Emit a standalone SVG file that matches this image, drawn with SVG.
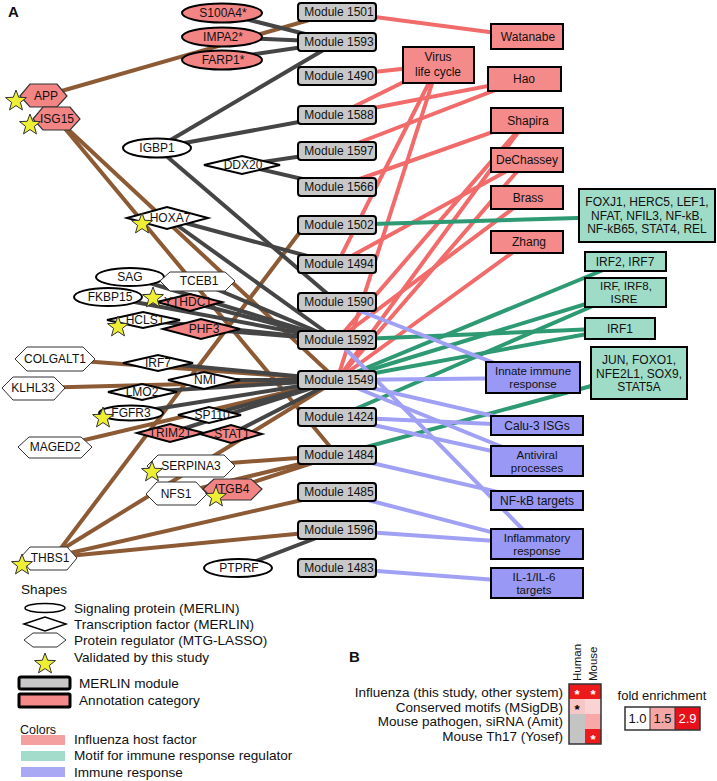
<svg xmlns="http://www.w3.org/2000/svg" width="717" height="781" viewBox="0 0 717 781">
<style>
text{font-family:"Liberation Sans",Arial,sans-serif;font-size:12px;fill:#111}
.t{text-anchor:middle}
.m2{font-size:11.5px}
.e line{stroke-width:4;stroke-linecap:butt}
.br{stroke:#8c5a34}.dk{stroke:#454545}.rd{stroke:#f26b6b}.gr{stroke:#2e9a74}.pu{stroke:#a0a0f5}
.sig{fill:#fff;stroke:#000;stroke-width:2}
.sigp{fill:#f28484;stroke:#000;stroke-width:2}
.tf{fill:#fff;stroke:#000;stroke-width:2}
.tfp{fill:#f28484;stroke:#000;stroke-width:2}
.hx{fill:#fff;stroke:#333;stroke-width:1}
.hxp{fill:#f28484;stroke:#333;stroke-width:1.2}
.mod{fill:#c8c8c8;stroke:#000;stroke-width:2}
.ann{fill:#f58a8a;stroke:#000;stroke-width:2}
.mot{fill:#9fdcc8;stroke:#000;stroke-width:2}
.imm{fill:#9999f5;stroke:#000;stroke-width:2}
.star{fill:#eeee33;stroke:#333;stroke-width:1}
.lg{font-size:13.6px}
.ast{font-size:13.2px;text-anchor:middle;font-weight:bold}
</style>
<defs>
<path id="star" class="star" d="M0,-11 L2.7,-3.72 L10.46,-3.4 L4.37,1.42 L6.47,8.9 L0,4.6 L-6.47,8.9 L-4.37,1.42 L-10.46,-3.4 L-2.7,-3.72 Z"/>
</defs>
<rect width="717" height="781" fill="#fff"/>
<text x="8" y="17" style="font-weight:bold;font-size:15px">A</text>

<g id="edges" class="e">
<!-- brown -->
<line class="br" x1="44" y1="96" x2="337" y2="12"/>
<line class="br" x1="57" y1="119" x2="337" y2="380"/>
<line class="br" x1="57" y1="119" x2="337" y2="455"/>
<line class="br" x1="55" y1="359" x2="337" y2="380"/>
<line class="br" x1="33" y1="388" x2="337" y2="380"/>
<line class="br" x1="55" y1="447" x2="337" y2="380"/>
<line class="br" x1="191" y1="466" x2="337" y2="455"/>
<line class="br" x1="176" y1="494" x2="337" y2="455"/>
<line class="br" x1="232" y1="489" x2="337" y2="455"/>
<line class="br" x1="55" y1="556" x2="300" y2="232"/>
<line class="br" x1="48" y1="558" x2="337" y2="380"/>
<line class="br" x1="48" y1="558" x2="337" y2="492"/>
<line class="br" x1="48" y1="558" x2="337" y2="530"/>
<!-- dark -->
<line class="dk" x1="222" y1="13" x2="337" y2="42"/>
<line class="dk" x1="222" y1="37" x2="337" y2="42"/>
<line class="dk" x1="222" y1="59" x2="337" y2="42"/>
<line class="dk" x1="157" y1="148" x2="337" y2="42"/>
<line class="dk" x1="157" y1="148" x2="337" y2="115"/>
<line class="dk" x1="157" y1="148" x2="337" y2="302"/>
<line class="dk" x1="242" y1="165" x2="337" y2="151"/>
<line class="dk" x1="242" y1="165" x2="337" y2="187"/>
<line class="dk" x1="167" y1="218" x2="337" y2="264"/>
<line class="dk" x1="167" y1="218" x2="337" y2="340"/>
<line class="dk" x1="130" y1="277" x2="337" y2="340"/>
<line class="dk" x1="197" y1="281" x2="337" y2="340"/>
<line class="dk" x1="108" y1="297" x2="337" y2="340"/>
<line class="dk" x1="190" y1="302" x2="337" y2="340"/>
<line class="dk" x1="143" y1="320" x2="337" y2="340"/>
<line class="dk" x1="201" y1="329" x2="337" y2="340"/>
<line class="dk" x1="158" y1="363" x2="337" y2="380"/>
<line class="dk" x1="204" y1="380" x2="337" y2="380"/>
<line class="dk" x1="142" y1="392" x2="337" y2="380"/>
<line class="dk" x1="131" y1="413" x2="337" y2="380"/>
<line class="dk" x1="209" y1="415" x2="337" y2="380"/>
<line class="dk" x1="170" y1="433" x2="337" y2="380"/>
<line class="dk" x1="231" y1="434" x2="337" y2="380"/>
<line class="dk" x1="238" y1="568" x2="337" y2="530"/>
<!-- red -->
<line class="rd" x1="337" y1="12" x2="527" y2="37"/>
<line class="rd" x1="337" y1="76" x2="438" y2="65"/>
<line class="rd" x1="337" y1="115" x2="438" y2="65"/>
<line class="rd" x1="337" y1="115" x2="524" y2="79"/>
<line class="rd" x1="337" y1="151" x2="524" y2="79"/>
<line class="rd" x1="337" y1="187" x2="527" y2="120"/>
<line class="rd" x1="337" y1="264" x2="438" y2="65"/>
<line class="rd" x1="337" y1="264" x2="527" y2="160"/>
<line class="rd" x1="337" y1="340" x2="527" y2="120"/>
<line class="rd" x1="337" y1="340" x2="527" y2="198"/>
<line class="rd" x1="337" y1="380" x2="438" y2="65"/>
<line class="rd" x1="337" y1="380" x2="527" y2="120"/>
<line class="rd" x1="337" y1="380" x2="527" y2="160"/>
<line class="rd" x1="337" y1="380" x2="527" y2="242"/>
<!-- green -->
<line class="gr" x1="337" y1="225" x2="647" y2="216"/>
<line class="gr" x1="337" y1="340" x2="620" y2="328"/>
<line class="gr" x1="337" y1="380" x2="625" y2="261"/>
<line class="gr" x1="337" y1="380" x2="625" y2="292"/>
<line class="gr" x1="337" y1="380" x2="620" y2="328"/>
<line class="gr" x1="337" y1="417" x2="625" y2="292"/>
<line class="gr" x1="337" y1="455" x2="639" y2="373"/>
<!-- purple -->
<line class="pu" x1="337" y1="302" x2="533" y2="378"/>
<line class="pu" x1="337" y1="340" x2="537" y2="544"/>
<line class="pu" x1="337" y1="380" x2="533" y2="378"/>
<line class="pu" x1="337" y1="380" x2="537" y2="426"/>
<line class="pu" x1="337" y1="380" x2="537" y2="461"/>
<line class="pu" x1="337" y1="417" x2="537" y2="426"/>
<line class="pu" x1="337" y1="417" x2="537" y2="461"/>
<line class="pu" x1="337" y1="455" x2="537" y2="501"/>
<line class="pu" x1="337" y1="492" x2="537" y2="544"/>
<line class="pu" x1="337" y1="530" x2="537" y2="544"/>
<line class="pu" x1="337" y1="568" x2="537" y2="583"/>
</g>

<!-- modules -->
<g id="m1501"><rect class="mod" x="298" y="3" width="78" height="18" rx="3"/><text class="t" x="339" y="16">Module 1501</text></g>
<g id="m1593"><rect class="mod" x="298" y="33" width="78" height="18" rx="3"/><text class="t" x="339" y="46">Module 1593</text></g>
<g id="m1490"><rect class="mod" x="298" y="67" width="78" height="18" rx="3"/><text class="t" x="339" y="80">Module 1490</text></g>
<g id="m1588"><rect class="mod" x="298" y="106" width="78" height="18" rx="3"/><text class="t" x="339" y="119">Module 1588</text></g>
<g id="m1597"><rect class="mod" x="298" y="142" width="78" height="18" rx="3"/><text class="t" x="339" y="155">Module 1597</text></g>
<g id="m1566"><rect class="mod" x="298" y="178" width="78" height="18" rx="3"/><text class="t" x="339" y="191">Module 1566</text></g>
<g id="m1502"><rect class="mod" x="298" y="216" width="78" height="18" rx="3"/><text class="t" x="339" y="229">Module 1502</text></g>
<g id="m1494"><rect class="mod" x="298" y="255" width="78" height="18" rx="3"/><text class="t" x="339" y="268">Module 1494</text></g>
<g id="m1590"><rect class="mod" x="298" y="293" width="78" height="18" rx="3"/><text class="t" x="339" y="306">Module 1590</text></g>
<g id="m1592"><rect class="mod" x="298" y="331" width="78" height="18" rx="3"/><text class="t" x="339" y="344">Module 1592</text></g>
<g id="m1549"><rect class="mod" x="298" y="371" width="78" height="18" rx="3"/><text class="t" x="339" y="384">Module 1549</text></g>
<g id="m1424"><rect class="mod" x="298" y="408" width="78" height="18" rx="3"/><text class="t" x="339" y="421">Module 1424</text></g>
<g id="m1484"><rect class="mod" x="298" y="446" width="78" height="18" rx="3"/><text class="t" x="339" y="459">Module 1484</text></g>
<g id="m1485"><rect class="mod" x="298" y="483" width="78" height="18" rx="3"/><text class="t" x="339" y="496">Module 1485</text></g>
<g id="m1596"><rect class="mod" x="298" y="521" width="78" height="18" rx="3"/><text class="t" x="339" y="534">Module 1596</text></g>
<g id="m1483"><rect class="mod" x="298" y="559" width="78" height="18" rx="3"/><text class="t" x="339" y="572">Module 1483</text></g>

<!-- annotation categories -->
<g id="vlc"><rect class="ann" x="403" y="47" width="71" height="36"/><text class="t" x="438" y="61">Virus</text><text class="t" x="438" y="76">life cycle</text></g>
<g id="watanabe"><rect class="ann" x="491" y="24" width="72" height="25"/><text class="t" x="528" y="41">Watanabe</text></g>
<g id="hao"><rect class="ann" x="488" y="67" width="73" height="24"/><text class="t" x="524" y="83">Hao</text></g>
<g id="shapira"><rect class="ann" x="491" y="108" width="72" height="25"/><text class="t" x="528" y="125">Shapira</text></g>
<g id="dechassey"><rect class="ann" x="491" y="148" width="72" height="24"/><text class="t" x="527" y="164">DeChassey</text></g>
<g id="brass"><rect class="ann" x="491" y="186" width="72" height="23"/><text class="t" x="528" y="202">Brass</text></g>
<g id="zhang"><rect class="ann" x="491" y="231" width="72" height="22"/><text class="t" x="529" y="246">Zhang</text></g>

<g id="foxj1"><rect class="mot" x="579" y="189" width="136" height="53"/><text class="t" x="647" y="206">FOXJ1, HERC5, LEF1,</text><text class="t" x="647" y="219.5">NFAT, NFIL3, NF-kB,</text><text class="t" x="647" y="233">NF-kB65, STAT4, REL</text></g>
<g id="irf2"><rect class="mot" x="585" y="252" width="81" height="19"/><text class="t" x="625" y="266">IRF2, IRF7</text></g>
<g id="irf8"><rect class="mot" x="585" y="278" width="81" height="29"/><text class="t m2" x="626" y="289.5">IRF, IRF8,</text><text class="t m2" x="624" y="302.5">ISRE</text></g>
<g id="irf1"><rect class="mot" x="585" y="318" width="70" height="21"/><text class="t" x="620" y="333">IRF1</text></g>
<g id="jun"><rect class="mot" x="591" y="347" width="96" height="52"/><text class="t" x="639" y="364">JUN, FOXO1,</text><text class="t" x="639" y="377.5">NFE2L1, SOX9,</text><text class="t" x="639" y="391">STAT5A</text></g>

<g id="innate"><rect class="imm" x="486" y="362" width="94" height="31"/><text class="t m2" x="533" y="375">Innate immune</text><text class="t m2" x="533" y="388">response</text></g>
<g id="calu3"><rect class="imm" x="491" y="416" width="92" height="19"/><text class="t" x="537" y="430">Calu-3 ISGs</text></g>
<g id="antiviral"><rect class="imm" x="491" y="446" width="92" height="30"/><text class="t m2" x="537" y="459">Antiviral</text><text class="t m2" x="537" y="472">processes</text></g>
<g id="nfkb"><rect class="imm" x="491" y="491" width="92" height="19"/><text class="t" x="537" y="505">NF-kB targets</text></g>
<g id="inflam"><rect class="imm" x="491" y="529" width="92" height="30"/><text class="t m2" x="537" y="542">Inflammatory</text><text class="t m2" x="537" y="555">response</text></g>
<g id="il1"><rect class="imm" x="491" y="568" width="92" height="30"/><text class="t m2" x="534" y="581">IL-1/IL-6</text><text class="t m2" x="534" y="594">targets</text></g>

<!-- gene nodes -->
<g id="s100a4"><ellipse class="sigp" cx="222" cy="13" rx="40" ry="9.5"/><text class="t" x="223" y="17">S100A4*</text></g>
<g id="impa2"><ellipse class="sigp" cx="222" cy="37" rx="40" ry="9.5"/><text class="t" x="223" y="41">IMPA2*</text></g>
<g id="farp1"><ellipse class="sigp" cx="222" cy="60" rx="40" ry="9.5"/><text class="t" x="223" y="64">FARP1*</text></g>
<g id="app"><polygon class="hxp" points="20,96 30,84 57,84 67,96 57,107 30,107"/><text class="t" x="46" y="100">APP</text><use href="#star" x="16" y="101"/></g>
<g id="isg15"><polygon class="hxp" points="33,119 43,107 70,107 80,119 70,130 43,130"/><text class="t" x="57" y="123">ISG15</text><use href="#star" x="30" y="125"/></g>
<g id="igbp1"><ellipse class="sig" cx="157" cy="148" rx="34" ry="9.5"/><text class="t" x="157" y="152">IGBP1</text></g>
<g id="ddx20"><polygon class="tf" points="204,165 242,156 280,165 242,174"/><text class="t" x="243" y="169">DDX20</text></g>
<g id="hoxa7"><polygon class="tf" points="127,218 167,207 208,218 167,229"/><text class="t" x="170" y="222">HOXA7</text><use href="#star" x="142" y="224"/></g>
<g id="sag"><ellipse class="sig" cx="130" cy="277" rx="34" ry="9"/><text class="t" x="130" y="281">SAG</text></g>
<g id="tceb1"><polygon class="hx" points="160,281 170,272 225,272 235,281 225,291 170,291"/><text class="t" x="199" y="285">TCEB1</text></g>
<g id="fkbp15"><ellipse class="sig" cx="108" cy="297" rx="34" ry="9"/><text class="t" x="110" y="301">FKBP15</text></g>
<g id="ythdc1"><polygon class="tfp" points="157,302 190,294 222,302 190,311"/><text class="t" x="188" y="306">YTHDC1</text><use href="#star" x="153" y="298"/></g>
<g id="hcls1"><polygon class="tf" points="107,320 143,312 180,320 143,328"/><text class="t" x="145" y="324">HCLS1</text><use href="#star" x="118" y="327"/></g>
<g id="phf3"><polygon class="tfp" points="163,329 201,319 240,329 201,339"/><text class="t" x="204" y="333">PHF3</text></g>
<g id="colgalt1"><polygon class="hx" points="15,359 27,347 83,347 95,359 83,371 27,371"/><text class="t" x="55" y="363">COLGALT1</text></g>
<g id="irf7"><polygon class="tf" points="123,363 158,355 193,363 158,371"/><text class="t" x="158" y="367">IRF7</text></g>
<g id="nmi"><polygon class="tf" points="168,380 204,372 240,380 204,389"/><text class="t" x="205" y="384">NMI</text></g>
<g id="klhl33"><polygon class="hx" points="2,388 13,377 54,377 65,388 54,400 13,400"/><text class="t" x="33" y="392">KLHL33</text></g>
<g id="lmo2"><polygon class="tf" points="108,392 142,384 177,392 142,400"/><text class="t" x="142" y="396">LMO2</text></g>
<g id="fgfr3"><ellipse class="sig" cx="131" cy="413" rx="32" ry="7.5"/><text class="t" x="131" y="417">FGFR3</text><use href="#star" x="103" y="418"/></g>
<g id="sp110"><polygon class="tf" points="178,415 209,407 241,415 209,423"/><text class="t" x="212" y="419">SP110</text></g>
<g id="trim21"><polygon class="tfp" points="137,433 170,424 204,433 170,442"/><text class="t" x="170" y="437">TRIM21</text></g>
<g id="stat1"><polygon class="tfp" points="200,434 231,425 262,434 231,443"/><text class="t" x="232" y="438">STAT1</text></g>
<g id="maged2"><polygon class="hx" points="18,447 29,437 81,437 92,447 81,458 29,458"/><text class="t" x="55" y="451">MAGED2</text></g>
<g id="serpina3"><polygon class="hx" points="147,466 158,455 224,455 235,466 224,477 158,477"/><text class="t" x="191" y="470">SERPINA3</text><use href="#star" x="152" y="472"/></g>
<g id="nfs1"><polygon class="hx" points="146,494 157,482 196,482 207,494 196,505 157,505"/><text class="t" x="176" y="498">NFS1</text></g>
<g id="itgb4"><polygon class="hxp" points="203,489 214,479 251,479 262,489 251,500 214,500"/><text class="t" x="232" y="493">ITGB4</text><use href="#star" x="216" y="497"/></g>
<g id="thbs1"><polygon class="hx" points="20,558 30,547 67,547 77,558 67,570 30,570"/><text class="t" x="50" y="562">THBS1</text><use href="#star" x="22" y="565"/></g>
<g id="ptprf"><ellipse class="sig" cx="238" cy="568" rx="34" ry="9"/><text class="t" x="239" y="572">PTPRF</text></g>

<!-- legend -->
<g id="legend">
<text class="lg" x="21" y="594">Shapes</text>
<ellipse cx="45" cy="608" rx="20" ry="4.5" fill="#fff" stroke="#000" stroke-width="1.5"/>
<text class="lg" x="74" y="613">Signaling protein (MERLIN)</text>
<polygon points="24,624 45,617 66,624 45,631" fill="#fff" stroke="#000" stroke-width="1.5"/>
<text class="lg" x="74" y="629">Transcription factor (MERLIN)</text>
<polygon points="24,640 33,633 57,633 66,640 57,647 33,647" fill="#fff" stroke="#333" stroke-width="1"/>
<text class="lg" x="74" y="645">Protein regulator (MTG-LASSO)</text>
<use href="#star" x="45" y="664"/>
<text class="lg" x="74" y="662">Validated by this study</text>
<rect x="19" y="677" width="51" height="12" rx="2" fill="#c8c8c8" stroke="#000" stroke-width="3"/>
<text class="lg" x="79" y="688">MERLIN module</text>
<rect x="19" y="694" width="51" height="13" rx="1" fill="#f58a8a" stroke="#000" stroke-width="3"/>
<text class="lg" x="79" y="705">Annotation category</text>
<text x="20" y="734" style="font-size:12.5px">Colors</text>
<rect x="21" y="735" width="44" height="10" fill="#f5a0a0"/>
<text class="lg" x="74" y="744">Influenza host factor</text>
<rect x="21" y="751" width="44" height="10" fill="#a4dccc"/>
<text class="lg" x="74" y="760">Motif for immune response regulator</text>
<rect x="21" y="767" width="44" height="10" fill="#a8a8f5"/>
<text class="lg" x="74" y="777">Immune response</text>
</g>

<!-- panel B -->
<g id="panelB">
<text x="349" y="662" style="font-weight:bold;font-size:15px">B</text>
<text x="563" y="697" text-anchor="end" style="font-size:13.5px">Influenza (this study, other system)</text>
<text x="563" y="711.5" text-anchor="end" style="font-size:13.5px">Conserved motifs (MSigDB)</text>
<text x="563" y="726" text-anchor="end" style="font-size:13.5px">Mouse pathogen, siRNA (Amit)</text>
<text x="563" y="740.5" text-anchor="end" style="font-size:13.5px">Mouse Th17 (Yosef)</text>
<text transform="translate(581,681) rotate(-90)" style="font-size:11.5px">Human</text>
<text transform="translate(597,681) rotate(-90)" style="font-size:11.5px">Mouse</text>
<rect x="569" y="684" width="16" height="15" fill="#ec1a1a"/>
<rect x="585" y="684" width="16" height="15" fill="#ec1a1a"/>
<rect x="569" y="699" width="16" height="15" fill="#f7c6c6"/>
<rect x="585" y="699" width="16" height="15" fill="#fad4d4"/>
<rect x="569" y="714" width="16" height="15" fill="#c4c4c4"/>
<rect x="585" y="714" width="16" height="15" fill="#f8a8a8"/>
<rect x="569" y="729" width="16" height="15" fill="#c4c4c4"/>
<rect x="585" y="729" width="16" height="15" fill="#ec1a1a"/>
<rect x="569" y="684" width="32" height="60" fill="none" stroke="#333" stroke-width="1.5"/>
<text x="577" y="699" class="ast" style="fill:#fff">*</text>
<text x="593" y="699" class="ast" style="fill:#fff">*</text>
<text x="577" y="714.3" class="ast" style="fill:#000">*</text>
<text x="593" y="744" class="ast" style="fill:#fff">*</text>
<text x="662" y="700" class="t" style="font-size:13px">fold enrichment</text>
<rect x="625" y="707" width="25" height="23" fill="#fff"/>
<rect x="650" y="707" width="25" height="23" fill="#f4a6a6"/>
<rect x="675" y="707" width="25" height="23" fill="#e8101a"/>
<rect x="625" y="707" width="75" height="23" fill="none" stroke="#333" stroke-width="1.5"/>
<line x1="650" y1="707" x2="650" y2="730" stroke="#333" stroke-width="1"/>
<line x1="675" y1="707" x2="675" y2="730" stroke="#333" stroke-width="1"/>
<text x="637.5" y="723" class="t" style="font-size:13px">1.0</text>
<text x="662.5" y="723" class="t" style="font-size:13px">1.5</text>
<text x="687.5" y="723" class="t" style="fill:#fff;font-size:13px">2.9</text>
</g>
</svg>
